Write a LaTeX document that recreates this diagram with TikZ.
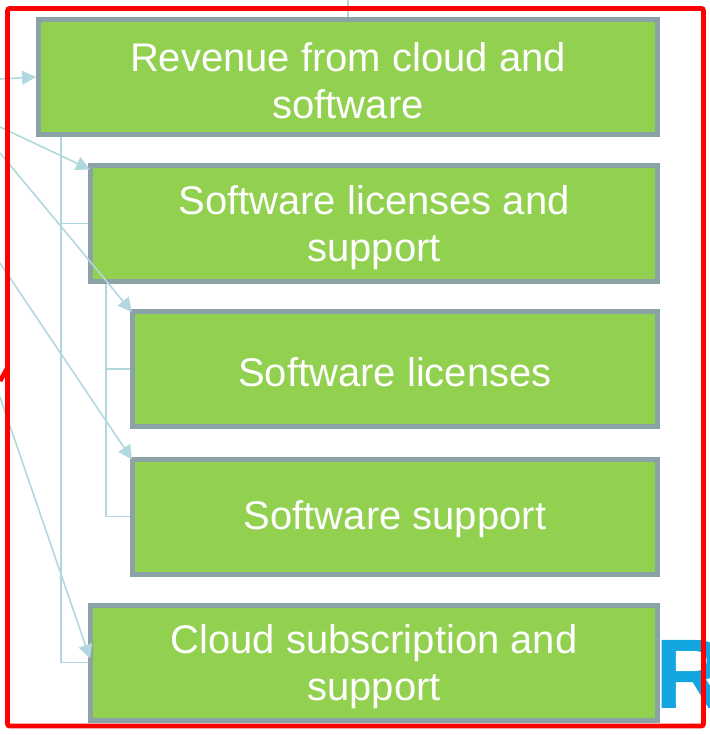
\documentclass[tikz,border=0pt]{standalone}
\usepackage{fontspec}
\setmainfont{Liberation Sans}
\usetikzlibrary{arrows.meta}
\definecolor{boxgreen}{HTML}{92D050}
\definecolor{boxgray}{HTML}{8BA2A6}
\definecolor{linkblue}{HTML}{B0D8DE}
\definecolor{logoblue}{HTML}{12A5E0}
\tikzset{
  box/.style={draw=boxgray, fill=boxgreen, line width=5pt, rectangle,
    minimum height=115pt, inner sep=0pt},
  boxtext/.style={align=center, text=white, inner sep=0pt,
    font=\fontsize{40}{47}\selectfont},
  tree/.style={draw=linkblue, line width=1.6pt},
  link/.style={draw=linkblue, line width=1.6pt,
    -{Triangle[length=14pt,width=14pt,fill=linkblue]}},
  frame/.style={draw=red, line width=4.6pt},
}
\begin{document}
\begin{tikzpicture}[x=1pt,y=-1pt]
\useasboundingbox (0,0) rectangle (709,735);
% logo fragment
\node[anchor=base west, inner sep=0pt, text=logoblue,
  font=\fontsize{99}{99}\selectfont\bfseries] (logo) at (655,708) {R};
% boxes
\node[box, minimum width=619pt] (b1) at (348,77) {};
\node[box, minimum width=567pt] (b2) at (374,223.5) {};
\node[box, minimum width=525pt] (b3) at (395,369) {};
\node[box, minimum width=525pt] (b4) at (395,516.5) {};
\node[box, minimum width=567pt] (b5) at (374,662.5) {};
\node[boxtext] (t1) at ([yshift=-4pt]b1.center) {Revenue from cloud and\\software};
\node[boxtext] (t2) at ([yshift=-4pt]b2.center) {Software licenses and\\support};
\node[boxtext] (t3) at ([yshift=-3pt]b3.center) {Software licenses};
\node[boxtext] (t4) at ([yshift=-3pt]b4.center) {Software support};
\node[boxtext] (t5) at ([yshift=-4pt]b5.center) {Cloud subscription and\\support};
% tree connectors
\coordinate (top) at (348,0);
\draw[tree] (top) -- (b1.north);
\draw[tree] ([xshift=25pt]b1.south west) |- (b5.west);
\draw[tree] ([xshift=25pt]b1.south west) |- (b2.west);
\draw[tree] ([xshift=18pt]b2.south west) |- (b3.west);
\draw[tree] ([xshift=18pt]b2.south west) |- (b4.west);
% incoming arrows from the left
\coordinate (s1) at (0,79);
\coordinate (s2) at (0,127);
\coordinate (s3) at (0,153);
\coordinate (s4) at (0,263);
\coordinate (s5) at (0,397);
\draw[link] (s1) -- (b1.west);
\draw[link] (s2) -- ([xshift=2pt,yshift=-6pt]b2.north west);
\draw[link] (s3) -- ([xshift=2pt,yshift=-3pt]b3.north west);
\draw[link] (s4) -- ([xshift=2pt,yshift=-3pt]b4.north west);
\draw[link] (s5) -- ([xshift=2pt,yshift=4pt]b5.west);
% red frame
\draw[frame, rounded corners=2pt] (7.5,8.5) rectangle (703.5,726);
\coordinate (r1) at (0,381);
\coordinate (r2) at (8,367);
\draw[frame] (r1) -- (r2);
\end{tikzpicture}
\end{document}
